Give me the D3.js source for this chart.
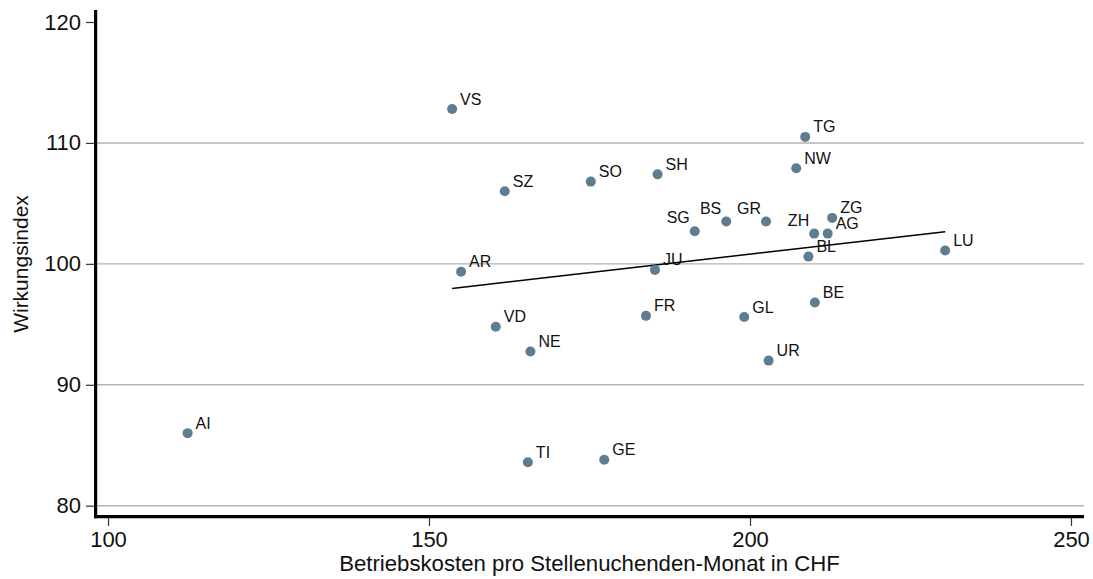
<!DOCTYPE html>
<html>
<head>
<meta charset="utf-8">
<script src="https://cdn.jsdelivr.net/npm/d3@7"></script>
<style>
  body { margin: 0; background: #fff; }
  svg { display: block; font-family: "Liberation Sans", Arial, sans-serif; }
</style>
</head>
<body>
<div id="chart"></div>
<script>
// Canton codes, costs (CHF per job seeker month) and impact index
const cantons = ["VS","SZ","SO","SH","TG","NW","BS","GR","ZG","ZH","AG","BL","LU","SG",
                 "AR","JU","FR","GL","BE","VD","NE","UR","AI","TI","GE"];
const kosten  = [153.6,161.8,175.2,185.6,208.6,207.2,196.3,202.5,212.8,210.0,212.1,209.1,230.4,191.4,
                 155.0,185.2,183.8,199.1,210.1,160.4,165.8,202.9,112.4,165.4,177.3];
const index   = [112.8,106.0,106.8,107.4,110.5,107.9,103.5,103.5,103.8,102.5,102.5,100.6,101.1,102.7,
                 99.35,99.5,95.7,95.6,96.8,94.8,92.75,92.0,86.0,83.6,83.8];

// fitted line end points
const fitX = [153.6, 230.4];
const fitY = [97.97, 102.66];

const xTicks = [100, 150, 200, 250];
const yTicks = [80, 90, 100, 110, 120];
const gridValues = [80, 90, 100, 110];
const leftLabels = ["SG", "ZH", "BS", "GR"];

const width = 1093;
const height = 579;

const x = d3.scaleLinear().domain([100, 250]).range([108, 1071]);
const y = d3.scaleLinear().domain([80, 120]).range([505.7, 22]);

const svg = d3.select("#chart").append("svg")
    .attr("width", width)
    .attr("height", height);

const axisX = 95.6;   // vertical axis line position
const axisY = 516.7;  // horizontal axis line position
const plotRight = 1084;

// gridlines
svg.append("g")
  .selectAll("line")
  .data(gridValues)
  .join("line")
    .attr("x1", axisX)
    .attr("x2", plotRight)
    .attr("y1", d => y(d))
    .attr("y2", d => y(d))
    .attr("stroke", "#b3b3b3")
    .attr("stroke-width", 1.4);

// y axis
const gy = svg.append("g")
    .attr("transform", `translate(94,0)`)
    .call(d3.axisLeft(y).tickValues(yTicks).tickSize(8).tickPadding(5));
gy.select(".domain").remove();
gy.selectAll(".tick line").attr("stroke", "#333").attr("stroke-width", 1.2);
gy.selectAll(".tick text")
    .attr("font-size", 22)
    .attr("fill", "#111")
    .attr("font-family", "Liberation Sans, Arial, sans-serif");

// x axis
const gx = svg.append("g")
    .attr("transform", `translate(0,518)`)
    .call(d3.axisBottom(x).tickValues(xTicks).tickSize(8).tickPadding(5));
gx.select(".domain").remove();
gx.selectAll(".tick line").attr("stroke", "#333").attr("stroke-width", 1.2);
gx.selectAll(".tick text")
    .attr("font-size", 22)
    .attr("fill", "#111")
    .attr("font-family", "Liberation Sans, Arial, sans-serif");

// thick axis lines
svg.append("line")
    .attr("x1", axisX).attr("x2", axisX)
    .attr("y1", 10).attr("y2", axisY + 1.5)
    .attr("stroke", "#000").attr("stroke-width", 3.2);
svg.append("line")
    .attr("x1", axisX - 1.6).attr("x2", plotRight)
    .attr("y1", axisY).attr("y2", axisY)
    .attr("stroke", "#000").attr("stroke-width", 3.2);

// fitted line
svg.append("line")
    .attr("x1", x(fitX[0])).attr("y1", y(fitY[0]))
    .attr("x2", x(fitX[1])).attr("y2", y(fitY[1]))
    .attr("stroke", "#000")
    .attr("stroke-width", 1.5);

const points = cantons.map((c, i) => ({ name: c, kosten: kosten[i], index: index[i] }));

// dots
svg.append("g")
  .selectAll("circle")
  .data(points)
  .join("circle")
    .attr("cx", d => x(d.kosten))
    .attr("cy", d => y(d.index))
    .attr("r", 5)
    .attr("fill", "#5f7d90");

// labels
svg.append("g")
  .selectAll("text")
  .data(points)
  .join("text")
    .attr("x", d => x(d.kosten) + (leftLabels.includes(d.name) ? -5 : 8))
    .attr("y", d => y(d.index) - (leftLabels.includes(d.name) ? 8 : 4.5))
    .attr("text-anchor", d => leftLabels.includes(d.name) ? "end" : "start")
    .attr("font-size", 16)
    .attr("fill", "#111")
    .text(d => d.name);

// axis titles
svg.append("text")
    .attr("x", (108 + 1071) / 2)
    .attr("y", 571)
    .attr("text-anchor", "middle")
    .attr("font-size", 22.2)
    .attr("fill", "#111")
    .text("Betriebskosten pro Stellenuchenden-Monat in CHF");

svg.append("text")
    .attr("transform", `translate(28,264) rotate(-90)`)
    .attr("text-anchor", "middle")
    .attr("font-size", 21)
    .attr("fill", "#111")
    .text("Wirkungsindex");
</script>
</body>
</html>
